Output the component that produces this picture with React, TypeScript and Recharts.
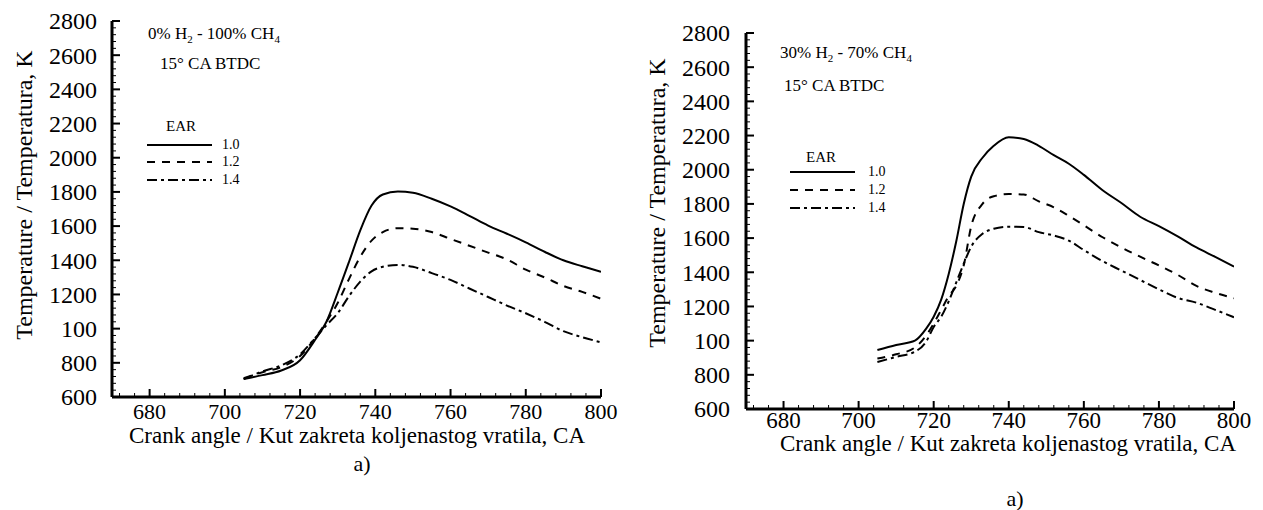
import React from "react";
import { LineChart, Line, XAxis, YAxis } from "recharts";

// ---------- data ----------
const leftCA = [705, 710, 715, 720, 724, 727, 730, 733, 736, 739, 742, 746, 750, 755, 760, 765, 770, 775, 780, 785, 790, 795, 800];
const leftEAR10 = [705, 728, 755, 815, 935, 1040, 1210, 1390, 1575, 1720, 1785, 1802, 1795, 1760, 1715, 1660, 1603, 1555, 1505, 1450, 1400, 1365, 1333];
const leftEAR12 = [710, 745, 775, 840, 945, 1040, 1150, 1290, 1420, 1515, 1565, 1588, 1585, 1565, 1525, 1485, 1445, 1405, 1345, 1300, 1250, 1215, 1175];
const leftEAR14 = [705, 750, 785, 850, 945, 1020, 1090, 1190, 1275, 1335, 1362, 1373, 1362, 1325, 1285, 1235, 1185, 1135, 1090, 1040, 985, 950, 920];

const rightCA = [705, 710, 715, 718, 720, 722, 724, 726, 728, 730, 733, 736, 740, 744, 748, 752, 756, 760, 765, 770, 775, 780, 785, 790, 795, 800];
const rightEAR10 = [945, 975, 1000, 1070, 1140, 1240, 1390, 1580, 1800, 1960, 2070, 2140, 2190, 2180, 2140, 2085, 2035, 1970, 1880, 1805, 1725, 1670, 1610, 1545, 1490, 1433];
const rightEAR12 = [895, 920, 960, 1030, 1100, 1180, 1260, 1320, 1440, 1670, 1800, 1845, 1858, 1855, 1815, 1780, 1730, 1675, 1605, 1545, 1491, 1440, 1385, 1320, 1280, 1248];
const rightEAR14 = [875, 905, 935, 995, 1080, 1140, 1230, 1340, 1450, 1550, 1625, 1655, 1667, 1665, 1635, 1615, 1585, 1530, 1465, 1410, 1355, 1300, 1250, 1222, 1180, 1137];

const xMajorTicks = [680, 700, 720, 740, 760, 780, 800];
const xMinorTicks = [672, 676, 684, 688, 692, 696, 704, 708, 712, 716, 724, 728, 732, 736, 744, 748, 752, 756, 764, 768, 772, 776, 784, 788, 792, 796];
const yMajorTicks = [600, 800, 1000, 1200, 1400, 1600, 1800, 2000, 2200, 2400, 2600, 2800];
const yTickLabels = ["600", "800", "100", "1200", "1400", "1600", "1800", "2000", "2200", "2400", "2600", "2800"];
const yMinorTicks = yMajorTicks.slice(0, -1).flatMap((v) => [v + 40, v + 80, v + 120, v + 160]);

const earLabels = ["1.0", "1.2", "1.4"];
const dashes = ["", "8 7", "10 4 3 4"];

const FONT = "'Liberation Serif', 'Times New Roman', serif";
const AXW = 40; // axis band size reserved inside the margins

const buildRows = (ca: number[], a: number[], b: number[], c: number[]) =>
  ca.map((x, i) => ({ ca: x, e10: a[i], e12: b[i], e14: c[i] }));

const leftRows = buildRows(leftCA, leftEAR10, leftEAR12, leftEAR14);
const rightRows = buildRows(rightCA, rightEAR10, rightEAR12, rightEAR14);

const yLabel = (v: number) => {
  const i = yMajorTicks.indexOf(v);
  return i >= 0 ? yTickLabels[i] : "";
};

const YTick = (props: any) => {
  const { x, y, payload, fsz, gap } = props;
  const v = payload.value;
  const major = yMajorTicks.includes(v);
  return (
    <g>
      <line x1={x} y1={y} x2={x + (major ? 8 : 4)} y2={y} stroke="#000" strokeWidth={major ? 2 : 1} />
      {major && (
        <text x={x - gap} y={y} dy="0.35em" textAnchor="end" style={{ fontFamily: FONT, fontSize: fsz, fill: "#000" }}>
          {yLabel(v)}
        </text>
      )}
    </g>
  );
};

const XTick = (props: any) => {
  const { x, y, payload, fsz, gap } = props;
  const v = payload.value;
  const major = xMajorTicks.includes(v);
  return (
    <g>
      <line x1={x} y1={y} x2={x} y2={y - (major ? 8 : 4)} stroke="#000" strokeWidth={major ? 2 : 1} />
      {major && (
        <text x={x} y={y + gap} textAnchor="middle" style={{ fontFamily: FONT, fontSize: fsz, fill: "#000" }}>
          {v}
        </text>
      )}
    </g>
  );
};

type PanelProps = {
  rows: any[];
  width: number;
  margin: { top: number; left: number; right: number; bottom: number };
  xFont: number;
  xGap: number;
  yFont: number;
  yGap: number;
};

const Panel = ({ rows, width, margin, xFont, xGap, yFont, yGap }: PanelProps) => (
  <LineChart
    width={width}
    height={510}
    data={rows}
    margin={{ top: margin.top, right: margin.right, left: margin.left - AXW, bottom: margin.bottom - AXW }}
    style={{ overflow: "visible", fontFamily: FONT }}
  >
    <XAxis
      type="number"
      dataKey="ca"
      domain={[670, 800]}
      ticks={[...xMajorTicks, ...xMinorTicks].sort((a, b) => a - b)}
      interval={0}
      height={AXW}
      tickSize={0}
      tickMargin={0}
      tickLine={false}
      axisLine={{ stroke: "#000", strokeWidth: 3 }}
      tick={(p: any) => <XTick {...p} fsz={xFont} gap={xGap} />}
      allowDataOverflow
    />
    <YAxis
      type="number"
      domain={[600, 2800]}
      ticks={[...yMajorTicks, ...yMinorTicks].sort((a, b) => a - b)}
      interval={0}
      width={AXW}
      tickSize={0}
      tickMargin={0}
      tickLine={false}
      axisLine={{ stroke: "#000", strokeWidth: 3 }}
      tick={(p: any) => <YTick {...p} fsz={yFont} gap={yGap} />}
      allowDataOverflow
    />
    <Line type="monotone" dataKey="e10" stroke="#000" strokeWidth={2} dot={false} isAnimationActive={false} />
    <Line type="monotone" dataKey="e12" stroke="#000" strokeWidth={2} strokeDasharray={dashes[1]} dot={false} isAnimationActive={false} />
    <Line type="monotone" dataKey="e14" stroke="#000" strokeWidth={2} strokeDasharray={dashes[2]} dot={false} isAnimationActive={false} />
  </LineChart>
);

const Legend = ({ x1, x2, titleX, titleY, lineYs, labelX, fs }: any) => (
  <g>
    <text x={titleX} y={titleY} fontSize={15}>EAR</text>
    {earLabels.map((lab, i) => (
      <g key={lab}>
        <line x1={x1} x2={x2} y1={lineYs[i]} y2={lineYs[i]} stroke="#000" strokeWidth={2} strokeDasharray={dashes[i] || undefined} />
        <text x={labelX} y={lineYs[i] + 4} fontSize={fs}>{lab}</text>
      </g>
    ))}
  </g>
);

export default function App() {
  return (
    <div style={{ position: "absolute", left: 0, top: 0, width: 1263, height: 510, background: "#fff", overflow: "hidden", fontFamily: FONT }}>
      <div style={{ position: "absolute", left: 0, top: 0 }}>
        <Panel rows={leftRows} width={620} margin={{ top: 21, left: 112, right: 19, bottom: 113 }} xFont={22} xGap={22} yFont={24} yGap={15} />
      </div>
      <div style={{ position: "absolute", left: 640, top: 0 }}>
        <Panel rows={rightRows} width={623} margin={{ top: 33, left: 106, right: 29, bottom: 101 }} xFont={23} xGap={19} yFont={24} yGap={16} />
      </div>
      <svg width={1263} height={510} style={{ position: "absolute", left: 0, top: 0, pointerEvents: "none", fontFamily: FONT }} fill="#000">
        {/* left panel texts */}
        <text x={32} y={195} transform="rotate(-90 32 195)" textAnchor="middle" fontSize={24}>Temperature / Temperatura, K</text>
        <text x={357} y={443} textAnchor="middle" fontSize={23}>Crank angle / Kut zakreta koljenastog vratila, CA</text>
        <text x={362} y={471} textAnchor="middle" fontSize={22}>a)</text>
        <text x={148} y={39} fontSize={17}>
          0% H<tspan fontSize={11} dy={4}>2</tspan>
          <tspan dy={-4}> - 100% CH</tspan>
          <tspan fontSize={11} dy={4}>4</tspan>
        </text>
        <text x={160} y={69} fontSize={17}>15° CA BTDC</text>
        <Legend x1={147} x2={212} titleX={166} titleY={131} lineYs={[145, 162, 180]} labelX={222} fs={14} />

        {/* right panel texts */}
        <text x={665} y={203} transform="rotate(-90 665 203)" textAnchor="middle" fontSize={24}>Temperature / Temperatura, K</text>
        <text x={1008} y={451} textAnchor="middle" fontSize={23}>Crank angle / Kut zakreta koljenastog vratila, CA</text>
        <text x={1015} y={506} textAnchor="middle" fontSize={22}>a)</text>
        <text x={780} y={58} fontSize={17}>
          30% H<tspan fontSize={11} dy={4}>2</tspan>
          <tspan dy={-4}> - 70% CH</tspan>
          <tspan fontSize={11} dy={4}>4</tspan>
        </text>
        <text x={784} y={91} fontSize={17}>15° CA BTDC</text>
        <Legend x1={790} x2={855} titleX={806} titleY={162} lineYs={[172, 190, 208]} labelX={868} fs={14} />
      </svg>
    </div>
  );
}
